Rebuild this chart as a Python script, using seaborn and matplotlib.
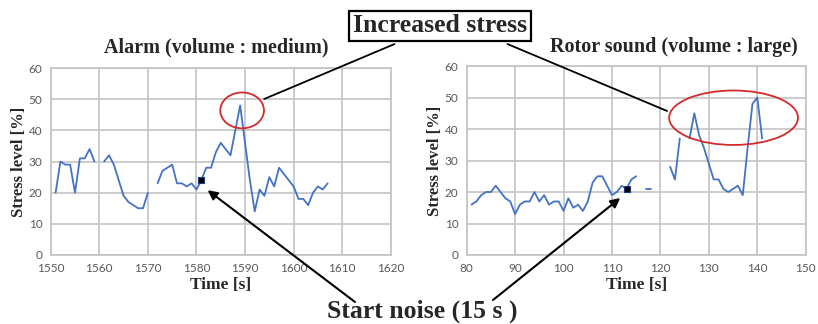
import numpy as np
import pandas as pd
import matplotlib
matplotlib.use('Agg')
import matplotlib.pyplot as plt
from matplotlib.patches import Ellipse
import seaborn as sns

# alarm (volume : medium)
alarm_time = list(range(1551, 1608))
alarm_stress = [20, 30, 29, 29, 20, 31, 31, 34, 30, np.nan,
                30, 32, 29, 24, 19, 17, 16, 15, 15, 20, np.nan,
                23, 27, 28, 29, 23, 23, 22, 23, 21, 24, 28, 28, 33, 36, 34, 32,
                40, 48, 36, 24, 14, 21, 19, 25, 22, 28, 26, 24, 22, 18, 18, 16,
                20, 22, 21, 23]
alarm_start = (1581, 24)

# rotor sound (volume : large)
rotor_time = list(range(81, 142))
rotor_stress = [16, 17, 19, 20, 20, 22, 20, 18, 17, 13, 16, 17, 17, 20, 17,
                19, 16, 17, 17, 14, 18, 15, 16, 14, 17, 23, 25, 25, 22, 19,
                20, 22, 21, 24, 25, np.nan, 21, 21, np.nan, np.nan, np.nan,
                28, 24, 37, np.nan, 37, 45, 38, 34, 29, 24, 24, 21, 20, 21,
                22, 19, 34, 48, 50, 37]
rotor_start = (113, 21)

line_color = '#4472C4'
grid_color = '#c3c3c3'
tick_color = '#595959'
serif = ['Liberation Serif', 'DejaVu Serif']

W, H = 818, 324


def fpix(x, y):
    # top-left pixel position -> figure fraction
    return (x / W, 1 - y / H)


def make_frame(t, s):
    df = pd.DataFrame({'time': t, 'stress': s})
    df['seg'] = df['stress'].isna().cumsum()
    return df.dropna()


def style_axes(ax, xlim, xticks):
    ax.set_xlim(xlim)
    ax.set_ylim(0, 60)
    ax.set_xticks(xticks)
    ax.set_yticks(range(0, 61, 10))
    ax.grid(True, color=grid_color, linewidth=1.2)
    for sp in ax.spines.values():
        sp.set_color(grid_color)
        sp.set_linewidth(1.2)
    ax.tick_params(axis='both', length=0, labelsize=8.5, colors=tick_color,
                   pad=6)
    for lab in ax.get_xticklabels() + ax.get_yticklabels():
        lab.set_family('Lato')
    ax.set_xlabel('Time [s]', fontsize=12.5, fontweight='bold',
                  family=serif, labelpad=2)
    ax.set_ylabel('Stress level [%]', fontsize=12, fontweight='bold',
                  family=serif, labelpad=1)


sns.set_style('white')
fig = plt.figure(figsize=(8.18, 3.24), dpi=100)
ax1 = fig.add_axes([0.062, 0.213, 0.4157, 0.577])
ax2 = fig.add_axes([0.5705, 0.213, 0.4145, 0.583])

panels = [
    (ax1, alarm_time, alarm_stress, alarm_start, (1550, 1620),
     range(1550, 1621, 10)),
    (ax2, rotor_time, rotor_stress, rotor_start, (80, 150),
     range(80, 151, 10)),
]

for ax, t, s, start, xlim, xticks in panels:
    df = make_frame(t, s)
    sns.lineplot(data=df, x='time', y='stress', units='seg', estimator=None,
                 color=line_color, linewidth=1.3, ax=ax)
    sns.scatterplot(x=[start[0]], y=[start[1]], marker='s', color='black',
                    s=22, ax=ax, zorder=5, edgecolor='#1a3a7a', linewidth=0.8)
    style_axes(ax, xlim, xticks)

fig.text(*fpix(216, 47), 'Alarm (volume : medium)', ha='center', va='center',
         fontsize=14.5, fontweight='bold', family=serif)
fig.text(*fpix(674, 47), 'Rotor sound (volume : large)', ha='center',
         va='center', fontsize=14.5, fontweight='bold', family=serif)

# red ellipses around the stress peaks
ax1.add_patch(Ellipse((1589.4, 46.4), 9.0, 11.5, fill=False,
                      edgecolor='#d42a2a', linewidth=1.3, zorder=6))
ax2.add_patch(Ellipse((135.1, 43.6), 26.6, 17.3, fill=False,
                      edgecolor='#d42a2a', linewidth=1.3, zorder=6))

# Increased stress callout
fig.text(*fpix(440, 26), 'Increased stress', ha='center', va='center',
         fontsize=18.5, fontweight='bold', family=serif,
         bbox=dict(boxstyle='square,pad=0.15', fc='white', ec='black', lw=1.6))
ax1.annotate('', xy=(1593.4, 49.7), xycoords='data',
             xytext=fpix(397, 43), textcoords='figure fraction',
             arrowprops=dict(arrowstyle='-', color='black', lw=1.3),
             annotation_clip=False)
ax2.annotate('', xy=(121.9, 45.4), xycoords='data',
             xytext=fpix(505, 43), textcoords='figure fraction',
             arrowprops=dict(arrowstyle='-', color='black', lw=1.3),
             annotation_clip=False)

# Start noise callout
fig.text(*fpix(422, 311), 'Start noise (15 s )', ha='center', va='center',
         fontsize=18.5, fontweight='bold', family=serif)
ax1.annotate('', xy=(1582.3, 20.8), xycoords='data',
             xytext=fpix(355, 302), textcoords='figure fraction',
             arrowprops=dict(arrowstyle='-|>', color='black', lw=1.5,
                             mutation_scale=14, shrinkA=0, shrinkB=0),
             annotation_clip=False)
ax2.annotate('', xy=(111.7, 18.1), xycoords='data',
             xytext=fpix(493, 300), textcoords='figure fraction',
             arrowprops=dict(arrowstyle='-|>', color='black', lw=1.5,
                             mutation_scale=14, shrinkA=0, shrinkB=0),
             annotation_clip=False)

fig.savefig('out.png', dpi=100, facecolor='white')
